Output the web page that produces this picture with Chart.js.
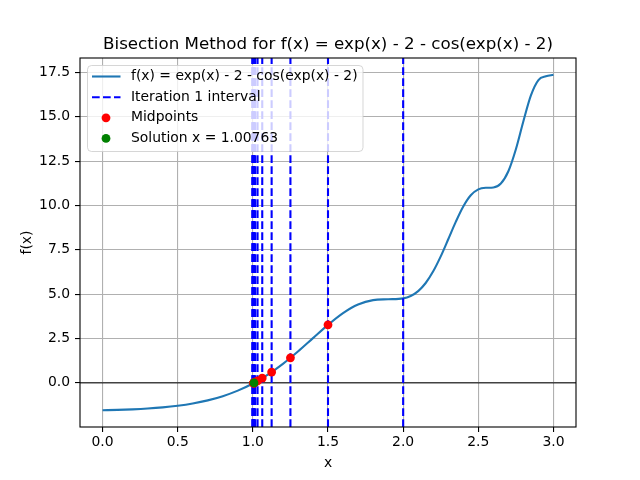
<!DOCTYPE html>
<html>
<head>
<meta charset="utf-8">
<script src="https://cdn.jsdelivr.net/npm/chart.js@4"></script>
<style>
  html, body { margin: 0; padding: 0; background: #fff; }
  #wrap { width: 640px; height: 480px; }
</style>
</head>
<body>
<div id="wrap"><canvas id="myChart" width="640" height="480"></canvas></div>
<script>
// f(x) = exp(x) - 2 - cos(exp(x) - 2)
const curveX = [0.0, 0.1, 0.2, 0.3, 0.4, 0.5, 0.6, 0.7, 0.8, 0.9, 1.0,
    1.1, 1.2, 1.3, 1.4, 1.5, 1.6, 1.7, 1.8, 1.9, 2.0,
    2.05, 2.1, 2.15, 2.2, 2.25, 2.3, 2.35, 2.4, 2.45, 2.5,
    2.55, 2.6, 2.65, 2.7, 2.75, 2.8, 2.85, 2.9, 2.95, 3.0];
const curveY = [-1.540, -1.520, -1.490, -1.446, -1.382, -1.290, -1.162, -0.986, -0.749, -0.437, -0.035,
    0.467, 1.072, 1.768, 2.521, 3.272, 3.935, 4.419, 4.665, 4.712, 4.763,
    4.898, 5.173, 5.630, 6.288, 7.130, 8.094, 9.076, 9.944, 10.575, 10.909,
    10.995, 11.013, 11.238, 11.928, 13.168, 14.747, 16.201, 17.067, 17.278, 17.364];

// bisection intervals [a, b] per iteration
const intervalA = [1, 1, 1, 1, 1, 1, 1, 1, 1.00390625, 1.00585938, 1.00683594, 1.00732422, 1.00756836, 1.00756836];
const intervalB = [2, 1.5, 1.25, 1.125, 1.0625, 1.03125, 1.015625, 1.0078125, 1.0078125, 1.0078125, 1.0078125, 1.0078125, 1.0078125, 1.00769043];

const midX = [1.5, 1.25, 1.125, 1.0625, 1.03125, 1.015625, 1.0078125, 1.00390625, 1.00585938, 1.00683594, 1.00732422, 1.00756836, 1.00769043, 1.0076294];
const midY = [3.27, 1.41, 0.61, 0.27, 0.11, 0.037, 0.001, -0.017, -0.008, -0.004, -0.0015, -0.0003, 0.0003, 0.0];

const solutionX = 1.00763;
const solutionY = 0;

const xTicks = [0.0, 0.5, 1.0, 1.5, 2.0, 2.5, 3.0];
const yTicks = [0.0, 2.5, 5.0, 7.5, 10.0, 12.5, 15.0, 17.5];
const xRange = [-0.15, 3.15];
const yRange = [-2.486, 18.31];

const titleText = 'Bisection Method for f(x) = exp(x) - 2 - cos(exp(x) - 2)';
const legendLabels = ['f(x) = exp(x) - 2 - cos(exp(x) - 2)', 'Iteration 1 interval', 'Midpoints',
    'Solution x = ' + solutionX];

const FONT = '"DejaVu Sans", sans-serif';
const BLUE = '#1f77b4';

const datasets = [];
datasets.push({
    label: legendLabels[0],
    data: curveX.map((x, i) => ({ x: x, y: curveY[i] })),
    borderColor: BLUE,
    borderWidth: 2.1,
    pointRadius: 0,
    cubicInterpolationMode: 'monotone',
    order: 5
});
datasets.push({
    label: 'zero',
    data: [{ x: xRange[0], y: 0 }, { x: xRange[1], y: 0 }],
    borderColor: '#000',
    borderWidth: 1,
    pointRadius: 0,
    order: 4
});
intervalA.forEach((a, i) => {
    [a, intervalB[i]].forEach(v => {
        datasets.push({
            label: 'interval',
            data: [{ x: v, y: yRange[0] }, { x: v, y: yRange[1] }],
            borderColor: '#0000ff',
            borderWidth: 2.1,
            borderDash: [7.7, 3.3],
            pointRadius: 0,
            order: 3
        });
    });
});
datasets.push({
    label: legendLabels[2],
    type: 'scatter',
    data: midX.map((x, i) => ({ x: x, y: midY[i] })),
    backgroundColor: '#ff0000',
    borderWidth: 0,
    pointRadius: 4.4,
    order: 2
});
datasets.push({
    label: legendLabels[3],
    type: 'scatter',
    data: [{ x: solutionX, y: solutionY }],
    backgroundColor: '#008000',
    borderWidth: 0,
    pointRadius: 4.4,
    order: 1
});

const decorPlugin = {
    id: 'decor',
    afterDatasetsDraw(chart) {
        const c = chart.ctx;
        const area = chart.chartArea;
        // axes frame
        c.save();
        c.strokeStyle = '#000';
        c.lineWidth = 1.1;
        c.strokeRect(area.left, area.top, area.right - area.left, area.bottom - area.top);

        // legend box
        const bx = 87.5, by = 65.5, bw = 275.5, bh = 86, r = 4;
        c.beginPath();
        c.moveTo(bx + r, by);
        c.arcTo(bx + bw, by, bx + bw, by + bh, r);
        c.arcTo(bx + bw, by + bh, bx, by + bh, r);
        c.arcTo(bx, by + bh, bx, by, r);
        c.arcTo(bx, by, bx + bw, by, r);
        c.closePath();
        c.fillStyle = 'rgba(255,255,255,0.8)';
        c.fill();
        c.strokeStyle = 'rgba(204,204,204,0.8)';
        c.lineWidth = 1;
        c.stroke();

        const rows = [76.5, 97.2, 117.8, 138.4];
        c.lineWidth = 2.1;
        c.strokeStyle = BLUE;
        c.beginPath();
        c.moveTo(92, rows[0]); c.lineTo(120.5, rows[0]);
        c.stroke();
        c.strokeStyle = '#0000ff';
        c.setLineDash([7.7, 3.3]);
        c.beginPath();
        c.moveTo(92, rows[1]); c.lineTo(120.5, rows[1]);
        c.stroke();
        c.setLineDash([]);
        c.fillStyle = '#ff0000';
        c.beginPath(); c.arc(106, rows[2], 4.4, 0, Math.PI * 2); c.fill();
        c.fillStyle = '#008000';
        c.beginPath(); c.arc(106, rows[3], 4.4, 0, Math.PI * 2); c.fill();

        c.fillStyle = '#000';
        c.font = '13.9px ' + FONT;
        c.textAlign = 'left';
        c.textBaseline = 'middle';
        legendLabels.forEach((t, i) => c.fillText(t, 131, rows[i]));

        // title
        c.font = '16.7px ' + FONT;
        c.textAlign = 'center';
        c.textBaseline = 'alphabetic';
        c.fillText(titleText, (area.left + area.right) / 2, 49);
        c.restore();
    }
};

const ctx = document.getElementById('myChart').getContext('2d');
let myChart = new Chart(ctx, {
    type: 'line',
    data: { datasets: datasets },
    plugins: [decorPlugin],
    options: {
        responsive: false,
        animation: false,
        devicePixelRatio: 1,
        layout: { padding: { top: 58, right: 64, bottom: 0, left: 0 } },
        plugins: {
            legend: { display: false },
            title: { display: false },
            tooltip: { enabled: false }
        },
        elements: { line: { tension: 0 } },
        scales: {
            x: {
                type: 'linear',
                min: xRange[0],
                max: xRange[1],
                afterBuildTicks: (scale) => { scale.ticks = xTicks.map(v => ({ value: v })); },
                afterFit: (scale) => { scale.height = 53; },
                ticks: {
                    callback: (v) => v.toFixed(1),
                    color: '#000',
                    font: { family: FONT, size: 13.9 },
                    padding: 2,
                    maxRotation: 0
                },
                grid: { color: '#b0b0b0', lineWidth: 1.1, tickColor: '#000', tickLength: 5 },
                border: { display: false },
                title: {
                    display: true,
                    text: 'x',
                    color: '#000',
                    font: { family: FONT, size: 13.9 },
                    padding: { top: 0, bottom: 8 }
                }
            },
            y: {
                type: 'linear',
                min: yRange[0],
                max: yRange[1],
                afterBuildTicks: (scale) => { scale.ticks = yTicks.map(v => ({ value: v })); },
                afterFit: (scale) => { scale.width = 80; },
                ticks: {
                    callback: (v) => v.toFixed(1),
                    color: '#000',
                    font: { family: FONT, size: 13.9 },
                    padding: 5
                },
                grid: { color: '#b0b0b0', lineWidth: 1.1, tickColor: '#000', tickLength: 5 },
                border: { display: false },
                title: {
                    display: true,
                    text: 'f(x)',
                    color: '#000',
                    font: { family: FONT, size: 13.9 },
                    padding: { top: 19, bottom: 4 }
                }
            }
        }
    }
});
</script>
</body>
</html>
